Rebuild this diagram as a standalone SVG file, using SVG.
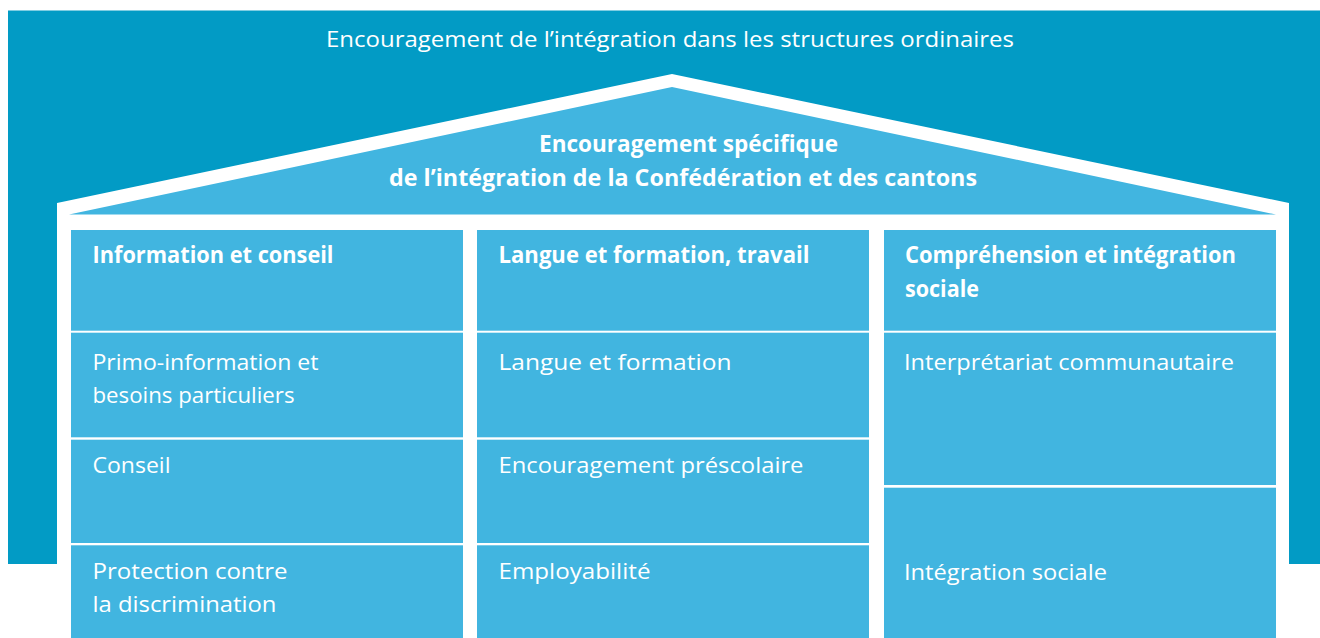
<svg xmlns="http://www.w3.org/2000/svg" width="1320" height="638" viewBox="0 0 1320 638">
  <style>
    .bg { fill: #029bc5; }
    .box { fill: #41b5e0; }
    .t { font-family: "Open Sans", "Noto Sans", sans-serif; fill: #ffffff; font-size: 21.5px; }
    .b { font-family: "Open Sans", "Noto Sans", sans-serif; fill: #ffffff; font-size: 23px; font-weight: bold; }
  </style>

  <!-- outer band: mainstream structures -->
  <g id="mainstream">
    <rect class="bg" x="8" y="10.5" width="1312" height="553.5"/>
    <text class="t" x="326" y="47" textLength="688" lengthAdjust="spacingAndGlyphs">Encouragement de l’intégration dans les structures ordinaires</text>
  </g>

  <!-- house outline and roof -->
  <g id="roof">
    <path d="M57,203 L672,74 L1289,203 L1289,640 L57,640 Z" fill="#ffffff"/>
    <path d="M69,214.5 L672,87 L1276,214.5 Z" class="box"/>
    <text class="b" x="539" y="152" textLength="299" lengthAdjust="spacingAndGlyphs">Encouragement spécifique</text>
    <text class="b" x="389" y="186" textLength="588" lengthAdjust="spacingAndGlyphs">de l’intégration de la Confédération et des cantons</text>
  </g>

  <!-- pillar 1 -->
  <g id="col-information">
    <rect class="box" x="71" y="230" width="392" height="100.7"/>
    <text class="b" x="92.5" y="263" textLength="241" lengthAdjust="spacingAndGlyphs">Information et conseil</text>
  </g>
  <g id="primo-information">
    <rect class="box" x="71" y="332.7" width="392" height="104.6"/>
    <text class="t" x="92.5" y="370" textLength="226" lengthAdjust="spacingAndGlyphs">Primo-information et</text>
    <text class="t" x="92.5" y="403" textLength="202" lengthAdjust="spacingAndGlyphs">besoins particuliers</text>
  </g>
  <g id="conseil">
    <rect class="box" x="71" y="439.7" width="392" height="103.3"/>
    <text class="t" x="92.5" y="473" textLength="78" lengthAdjust="spacingAndGlyphs">Conseil</text>
  </g>
  <g id="protection">
    <rect class="box" x="71" y="545.3" width="392" height="95"/>
    <text class="t" x="92.5" y="579" textLength="195" lengthAdjust="spacingAndGlyphs">Protection contre</text>
    <text class="t" x="92.5" y="611.5" textLength="184" lengthAdjust="spacingAndGlyphs">la discrimination</text>
  </g>

  <!-- pillar 2 -->
  <g id="col-langue">
    <rect class="box" x="477" y="230" width="392" height="100.7"/>
    <text class="b" x="498.5" y="263" textLength="311" lengthAdjust="spacingAndGlyphs">Langue et formation, travail</text>
  </g>
  <g id="langue-formation">
    <rect class="box" x="477" y="332.7" width="392" height="104.6"/>
    <text class="t" x="498.5" y="370" textLength="233" lengthAdjust="spacingAndGlyphs">Langue et formation</text>
  </g>
  <g id="prescolaire">
    <rect class="box" x="477" y="439.7" width="392" height="103.3"/>
    <text class="t" x="498.5" y="473" textLength="305" lengthAdjust="spacingAndGlyphs">Encouragement préscolaire</text>
  </g>
  <g id="employabilite">
    <rect class="box" x="477" y="545.3" width="392" height="95"/>
    <text class="t" x="498.5" y="579" textLength="152" lengthAdjust="spacingAndGlyphs">Employabilité</text>
  </g>

  <!-- pillar 3 -->
  <g id="col-comprehension">
    <rect class="box" x="884" y="230" width="392" height="100.7"/>
    <text class="b" x="905" y="263" textLength="331" lengthAdjust="spacingAndGlyphs">Compréhension et intégration</text>
    <text class="b" x="905" y="296.5" textLength="74" lengthAdjust="spacingAndGlyphs">sociale</text>
  </g>
  <g id="interpretariat">
    <rect class="box" x="884" y="332.7" width="392" height="152.3"/>
    <text class="t" x="904" y="370" textLength="330" lengthAdjust="spacingAndGlyphs">Interprétariat communautaire</text>
  </g>
  <g id="integration-sociale">
    <rect class="box" x="884" y="487.7" width="392" height="152.3"/>
    <text class="t" x="904" y="580" textLength="203" lengthAdjust="spacingAndGlyphs">Intégration sociale</text>
  </g>

  <!-- no connectors in this diagram -->
  <g id="connectors"/>
</svg>
